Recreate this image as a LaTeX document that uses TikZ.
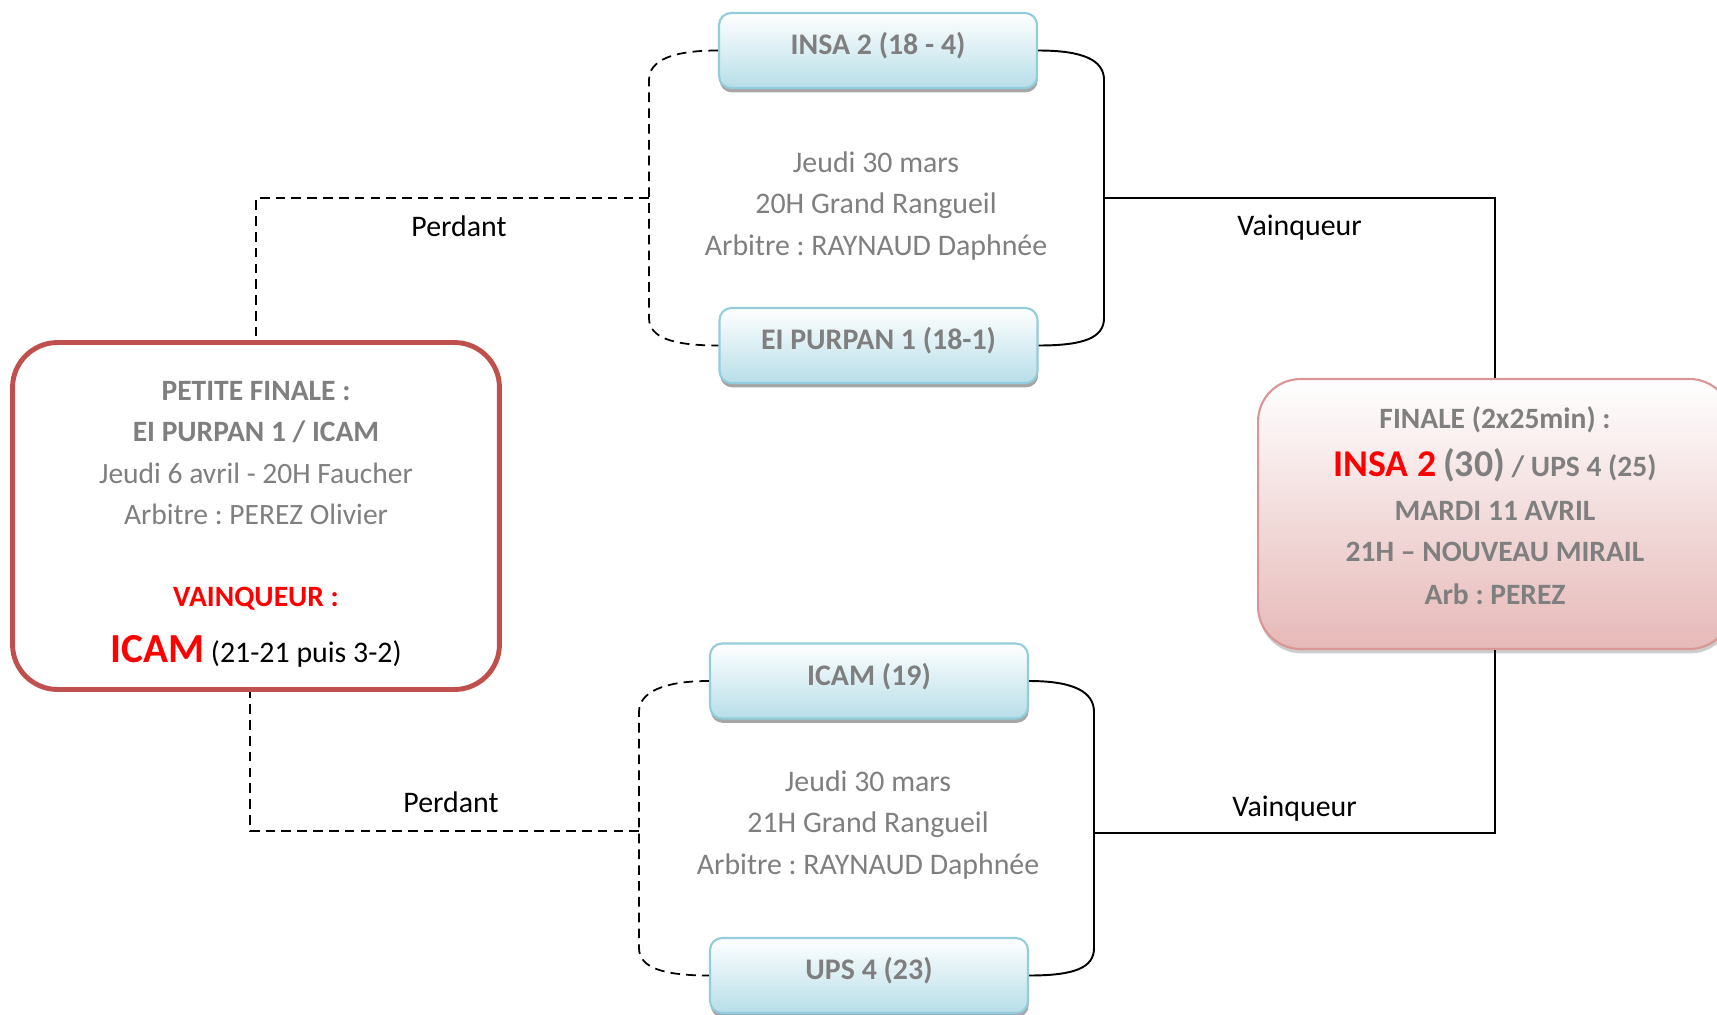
\documentclass[tikz,border=0pt]{standalone}
\usepackage{fontspec}
\setmainfont{Carlito}
\usepackage{tikz}
\usetikzlibrary{calc, shadows}
\frenchspacing

\definecolor{txtgray}{HTML}{7F7F7F}
\definecolor{teamline}{HTML}{93CDDD}
\definecolor{teamfill}{HTML}{B7DEE8}
\definecolor{petiteline}{HTML}{C0504D}
\definecolor{finaleline}{HTML}{D99694}
\definecolor{finalefill}{HTML}{E6B9B8}

\begin{document}
\begin{tikzpicture}[x=0.02cm, y=-0.02cm,
    team/.style={draw=teamline, line width=1.2pt, rounded corners=0.24cm,
        top color=white, bottom color=teamfill, minimum width=6.36cm, minimum height=1.5cm,
        text=txtgray, font=\fontsize{17}{20}\selectfont\bfseries, text depth=8pt,
        drop shadow={shadow xshift=0.4pt, shadow yshift=-2.5pt, fill=black!50, opacity=0.7}},
    info/.style={text=txtgray, align=center, font=\fontsize{17}{23.5}\selectfont},
    petite/.style={draw=petiteline, line width=2.8pt, rounded corners=0.9cm, fill=white,
        minimum width=9.74cm, minimum height=6.94cm, text=txtgray, align=center,
        font=\fontsize{16.8}{23.6}\selectfont},
    finale/.style={draw=finaleline, line width=1.2pt, rounded corners=0.85cm,
        top color=white, bottom color=finalefill, minimum width=9.48cm, minimum height=5.4cm,
        text=txtgray, align=center, font=\fontsize{16.8}{23.3}\selectfont\bfseries, text depth=10pt,
        drop shadow={shadow xshift=0.5pt, shadow yshift=-2.5pt, fill=black!40, opacity=0.5}},
    perdant/.style={dash pattern=on 5.5pt off 3.5pt, line width=1pt},
    vainqueur/.style={line width=1.1pt},
    legend/.style={font=\fontsize{17}{20}\selectfont}]

    \useasboundingbox (0,0) rectangle (1717,1014);

    % equipes
    \foreach \name/\x/\y/\txt in {insa/878/50.5/{INSA 2 (18 - 4)}, purpan/878.5/345.5/{EI PURPAN 1 (18-1)},
        icam/869/681/{ICAM (19)}, ups/869/975.5/{UPS 4 (23)}}
        \node[team] (\name) at (\x,\y) {\txt};

    \node[info] (demiA) at (876,206) {Jeudi 30 mars\\20H Grand Rangueil\\Arbitre : RAYNAUD Daphnée};
    \node[info] (demiB) at (868,825) {Jeudi 30 mars\\21H Grand Rangueil\\Arbitre : RAYNAUD Daphnée};

    \node[petite] (petite) at (256,516) {\rule{0pt}{20pt}{\bfseries PETITE FINALE :}\\{\bfseries EI PURPAN 1 / ICAM}\\
        Jeudi 6 avril - 20H Faucher\\Arbitre : PEREZ Olivier\\[23pt]
        {\bfseries\color{red}VAINQUEUR :}\\[8pt]
        {\fontsize{23.5}{28}\selectfont\bfseries\color{red}ICAM} {\fontsize{17}{20}\selectfont\color{black}(21-21 puis 3-2)}};

    \node[finale] (finale) at (1495,514) {FINALE (2x25min) :\\[4pt]
        {\fontsize{21.5}{24}\selectfont\color{red}INSA 2} {\fontsize{21.5}{24}\selectfont(30)} / UPS 4 (25)\\[2pt]
        MARDI 11 AVRIL\\21H – NOUVEAU MIRAIL\\[1pt]Arb : PEREZ};

    \coordinate (perdantA) at (649,198);
    \coordinate (vainqA) at (1104,198);
    \coordinate (perdantB) at (639,831);
    \coordinate (vainqB) at (1094,833);

    % perdants
    \draw[perdant] (insa.west) .. controls +(-45,0) and +(0,-20) .. (perdantA |- 0,80)
        -- (perdantA |- 0,318) .. controls +(0,20) and +(-45,0) .. (purpan.west);
    \draw[perdant] (perdantA) -| (petite.north) node[legend, pos=0.25, xshift=0.13cm, yshift=-0.56cm] {Perdant};
    \draw[perdant] (icam.west) .. controls +(-45,0) and +(0,-20) .. (perdantB |- 0,712)
        -- (perdantB |- 0,948) .. controls +(0,20) and +(-45,0) .. (ups.west);
    \draw[perdant] (perdantB) -| ($(petite.south)+(-6,0)$) node[legend, pos=0.25, xshift=0.13cm, yshift=0.58cm] {Perdant};

    % vainqueurs
    \draw[vainqueur] (insa.east) .. controls +(45,0) and +(0,-20) .. (vainqA |- 0,80)
        -- (vainqA |- 0,318) .. controls +(0,20) and +(45,0) .. (purpan.east);
    \draw[vainqueur] (vainqA) -| (finale.north) node[legend, pos=0.25, yshift=-0.6cm] {Vainqueur};
    \draw[vainqueur] (icam.east) .. controls +(45,0) and +(0,-20) .. (vainqB |- 0,712)
        -- (vainqB |- 0,948) .. controls +(0,20) and +(45,0) .. (ups.east);
    \draw[vainqueur] (vainqB) -| (finale.south) node[legend, pos=0.25, yshift=0.48cm] {Vainqueur};
\end{tikzpicture}
\end{document}
